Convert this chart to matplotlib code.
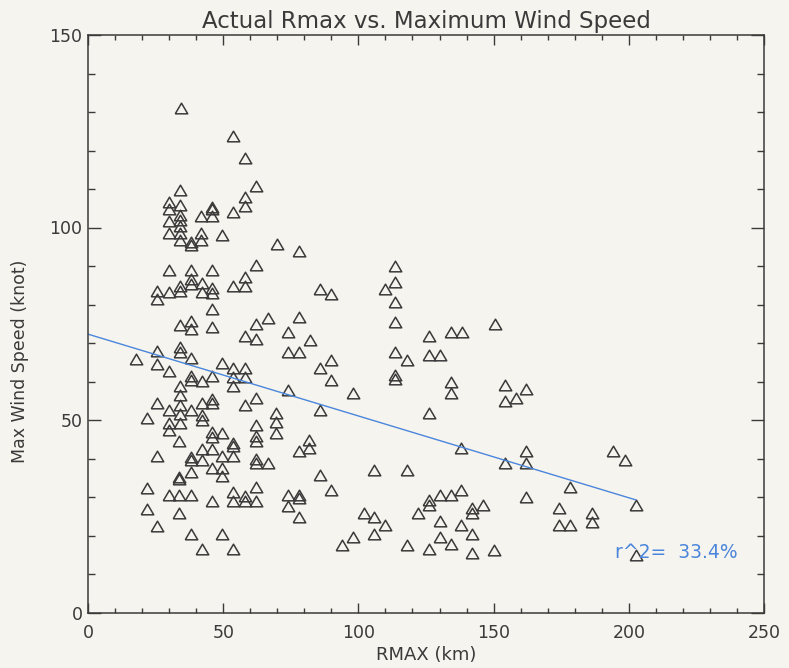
import numpy as np
import matplotlib.pyplot as plt
from matplotlib.ticker import MultipleLocator

# values
rmax_km = [
    34.3, 53.8, 58.0, 62.1, 69.8, 78.1,
    34.0, 29.8, 29.8, 34.0, 34.0, 34.0, 29.8, 34.0, 29.8, 34.0, 34.0, 38.0, 38.0,
    41.7, 41.7, 41.7, 45.8, 45.8, 45.8, 53.8, 58.0, 58.0, 49.7,
    62.1, 29.8, 38.0, 45.8, 34.0, 34.0, 38.0, 38.0, 42.1, 42.1, 45.8, 45.8,
    25.7, 25.7, 29.8, 53.8, 58.0, 58.0, 45.8, 34.0, 38.0, 38.0, 45.8, 66.5,
    62.1, 58.0, 62.1, 34.0, 34.0, 17.7, 25.7, 25.7, 29.8, 38.0, 49.7, 53.8,
    58.0, 38.0, 38.0, 42.1, 45.8, 53.8, 53.8, 58.0,
    34.0, 34.0, 34.0, 34.0, 34.0, 25.7, 29.8, 38.0, 42.1, 45.8, 45.8, 42.1,
    42.1, 58.0, 62.1, 22.0, 29.8, 29.8, 45.8, 45.8, 49.7, 62.1, 62.1, 62.1,
    69.5, 69.5, 69.5,
    33.7, 53.8, 53.8, 25.7, 38.0, 38.0, 42.1, 42.1, 45.8, 49.7, 53.8,
    62.1, 62.1, 66.5, 38.0, 33.7, 33.7, 45.8, 49.7, 49.7, 22.0, 29.8, 33.7,
    38.0, 45.8, 53.8, 53.8, 58.0, 58.0, 62.1, 62.1, 22.0, 33.7, 25.7, 38.0,
    49.7, 42.1, 53.8,
    85.8, 89.9, 113.7, 113.7, 110.0, 113.7, 113.7, 78.1, 73.8, 82.1, 73.8,
    78.1, 85.8, 89.9, 89.9, 73.8, 97.9, 113.7, 117.9, 113.7, 113.7, 126.0,
    134.1, 138.3, 126.0, 130.0, 134.1, 134.1, 150.4,
    85.8, 126.0, 81.9, 81.9, 77.9, 138.0, 85.8, 105.9, 117.9, 73.8, 77.9,
    77.9, 73.8, 89.9, 77.9, 102.0, 105.9, 110.0, 105.9, 97.9, 94.0, 117.9,
    122.0, 126.0, 126.0, 130.0, 134.1, 138.0, 130.0, 130.0, 126.0, 134.1,
    138.0, 142.1, 142.1, 142.1, 142.1, 146.0, 150.0,
    154.1, 162.1, 158.1, 154.1, 162.1, 162.1, 154.1, 178.1, 194.2, 198.5,
    202.5, 162.1, 174.2, 174.2, 178.1, 186.5, 186.5, 202.5,
]
max_wind_kt = [
    131.1, 123.8, 118.0, 110.8, 95.7, 93.8,
    109.7, 106.7, 104.7, 105.8, 103.2, 101.9, 101.6, 100.5, 98.7, 98.7, 96.7, 96.3, 95.5,
    103.0, 98.7, 96.7, 105.4, 104.8, 103.0, 104.1, 107.8, 105.7, 98.0,
    90.2, 88.9, 88.9, 88.9, 84.9, 83.6, 86.5, 85.4, 85.6, 83.2, 84.3, 83.0,
    83.6, 81.5, 83.2, 84.8, 87.1, 84.8, 78.9, 74.7, 75.8, 73.6, 74.1, 76.5,
    74.9, 71.9, 71.0, 68.9, 67.7, 65.8, 68.0, 64.5, 62.6, 66.0, 64.7, 63.6,
    63.6, 61.4, 60.5, 60.1, 61.4, 61.1, 58.8, 61.1,
    58.8, 56.5, 54.0, 51.5, 49.3, 54.5, 52.7, 52.7, 54.5, 55.4, 54.5, 51.4,
    50.1, 54.0, 55.8, 50.6, 49.3, 47.5, 47.0, 45.5, 46.5, 48.8, 45.8, 44.5,
    51.9, 49.5, 46.7,
    44.5, 44.0, 43.2, 40.7, 40.5, 39.7, 42.5, 39.5, 42.5, 40.7, 40.7,
    39.8, 38.8, 38.8, 36.6, 35.3, 34.6, 37.5, 37.5, 35.5, 32.3, 30.5, 30.5,
    30.5, 29.0, 31.4, 29.0, 30.3, 29.0, 32.6, 29.0, 26.8, 25.8, 22.5, 20.4,
    20.4, 16.6, 16.6,
    83.9, 82.8, 90.0, 85.8, 83.9, 80.6, 75.5, 76.7, 72.8, 70.8, 67.7,
    67.7, 63.6, 65.6, 60.4, 57.8, 57.1, 67.7, 65.6, 61.6, 60.6, 71.9,
    72.8, 72.8, 66.8, 66.8, 59.9, 57.1, 74.9,
    52.6, 51.7, 44.9, 42.7, 41.9, 42.7, 35.8, 36.9, 36.9, 30.5, 30.5,
    29.7, 27.7, 31.7, 24.9, 25.9, 24.9, 22.7, 20.5, 19.7, 17.5, 17.5,
    25.8, 29.2, 27.9, 30.5, 30.5, 31.7, 23.8, 19.7, 16.4, 17.8,
    22.7, 27.1, 25.9, 20.5, 15.5, 27.9, 16.2,
    59.0, 58.0, 55.8, 54.9, 41.9, 38.8, 38.8, 32.7, 41.9, 39.7,
    27.9, 29.9, 27.1, 22.7, 22.7, 25.8, 23.6, 14.9,
]
# fitted line as drawn in the reference (intercept, slope) and its r^2 label
fit_intercept = 72.3
fit_slope = -0.2125
r2_text = 'r^2=  33.4%'

x = np.array(rmax_km)
y = np.array(max_wind_kt)

bg = '#f6f4ee'
ink = '#3a3a3a'
blue = '#4a86dc'

plt.rcParams['font.family'] = ['DejaVu Sans']
fig = plt.figure(figsize=(7.89, 6.68), dpi=100, facecolor=bg)
ax = fig.add_axes([88 / 789, 55.5 / 668, 676 / 789, 577.5 / 668])
ax.set_facecolor(bg)

# flattened triangle like the IDL psym 5
tri = [(-1.0, -0.85), (1.0, -0.85), (0.0, 0.85), (-1.0, -0.85)]
ax.plot(x, y, linestyle='none', marker=tri, markersize=9, markerfacecolor='none',
        markeredgecolor=ink, markeredgewidth=1.1)

xl = np.array([0, x.max()])
ax.plot(xl, fit_intercept + fit_slope * xl, color=blue, lw=1.0)

ax.text(195, 15.5, r2_text, color=blue, fontsize=13.5, va='center', ha='left')

ax.set_xlim(0, 250)
ax.set_ylim(0, 150)
ax.xaxis.set_major_locator(MultipleLocator(50))
ax.xaxis.set_minor_locator(MultipleLocator(10))
ax.yaxis.set_major_locator(MultipleLocator(50))
ax.yaxis.set_minor_locator(MultipleLocator(10))
ax.tick_params(axis='both', which='both', direction='in', top=True, right=True,
               colors=ink, labelcolor=ink, labelsize=12.5, width=1.0)
ax.tick_params(axis='y', which='major', length=9.5, pad=4)
ax.tick_params(axis='y', which='minor', length=4.7)
ax.tick_params(axis='x', which='major', length=7.5, pad=8.5)
ax.tick_params(axis='x', which='minor', length=3.5)
for s in ax.spines.values():
    s.set_color(ink)
    s.set_linewidth(1.1)

ax.set_title('Actual Rmax vs. Maximum Wind Speed', fontsize=16.5, color=ink, pad=5)
ax.set_xlabel('RMAX (km)', fontsize=13, color=ink, labelpad=3)
ax.set_ylabel('Max Wind Speed (knot)', fontsize=12.5, color=ink, labelpad=12)
ax.yaxis.set_label_coords(-0.088, 0.435)

fig.savefig('out.png', dpi=100, facecolor=bg)
